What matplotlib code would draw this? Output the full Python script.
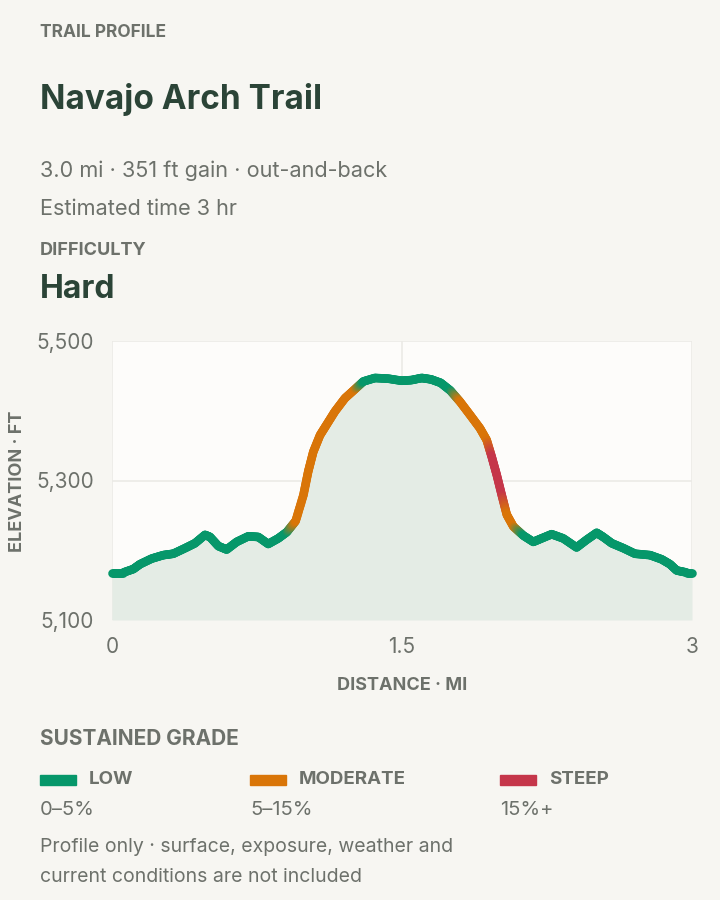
import numpy as np
import matplotlib
matplotlib.use('Agg')
import matplotlib.pyplot as plt
from matplotlib.collections import LineCollection
from matplotlib.colors import to_rgb
from matplotlib.patches import Rectangle

plt.rcParams['font.family'] = ['Inter', 'DejaVu Sans']

# Profile data
distance_mi = [0.000, 0.058, 0.110, 0.145, 0.205, 0.265, 0.317, 0.378, 0.429, 0.481,
               0.507, 0.550, 0.593, 0.645, 0.705, 0.757, 0.808, 0.860, 0.904,
               0.950, 0.990, 1.015, 1.041, 1.076, 1.110, 1.153, 1.205, 1.257,
               1.300, 1.360, 1.429, 1.498, 1.550, 1.602, 1.650, 1.700, 1.750,
               1.800, 1.852, 1.903, 1.938,
               1.964, 1.990, 2.016,
               2.042, 2.076,
               2.128, 2.179, 2.222, 2.274, 2.334, 2.403, 2.455, 2.507, 2.541,
               2.585, 2.645, 2.705, 2.783, 2.843, 2.886, 2.921, 2.973, 3.000]
elevation_ft = [5168, 5168, 5173, 5180, 5188, 5193, 5195, 5203, 5210, 5222,
                5219, 5206, 5201, 5212, 5220, 5219, 5209, 5217, 5226,
                5242, 5279, 5313, 5341, 5365, 5380, 5399, 5418, 5431,
                5442, 5447, 5446, 5443, 5444, 5447, 5445, 5440, 5429,
                5413, 5394, 5375, 5358,
                5334, 5308, 5279,
                5251, 5234,
                5221, 5212, 5217, 5223, 5217, 5204, 5215, 5225, 5219,
                5210, 5203, 5195, 5193, 5187, 5180, 5171, 5168, 5168]
grade_class = (['low'] * 19 + ['moderate'] * 9 + ['low'] * 9 + ['moderate'] * 4 +
               ['steep'] * 3 + ['moderate'] * 2 + ['low'] * 18)

grade_keys = ['low', 'moderate', 'steep']
grade_names = ['LOW', 'MODERATE', 'STEEP']
grade_ranges = ['0–5%', '5–15%', '15%+']
grade_colors = {'low': '#06976a', 'moderate': '#d97508', 'steep': '#c5364a'}

y_ticks = [5100, 5300, 5500]
x_ticks = [0, 1.5, 3]

BG = '#f7f6f2'
DARK = '#2b4437'
GREY = '#6d716b'

fig = plt.figure(figsize=(7.2, 9), dpi=100, facecolor=BG)
W, H = 720, 900


def txt(x, y, s, size, weight='normal', color=GREY):
    fig.text(x / W, 1 - y / H, s, fontsize=size, fontweight=weight, color=color,
             ha='left', va='baseline')


# Header
txt(40, 37, 'TRAIL PROFILE', 12.5, 'bold')
txt(40, 109, 'Navajo Arch Trail', 24, 'bold', DARK)
txt(40, 177, '3.0 mi · 351 ft gain · out-and-back', 15.6)
txt(40, 215, 'Estimated time 3 hr', 15.6)
txt(40, 255, 'DIFFICULTY', 13, 'bold')
txt(40, 298, 'Hard', 23, 'bold', DARK)

# Chart
ax = fig.add_axes([112 / W, 1 - 620 / H, 580 / W, 279 / H])
ax.set_facecolor('#fdfcfa')
ax.fill_between(distance_mi, elevation_ft, 5100, color='#e4ece5', lw=0, zorder=1)

# line with colour blending between grade classes
x = np.array(distance_mi, dtype=float)
y = np.array(elevation_ft, dtype=float)
cols = np.array([to_rgb(grade_colors[g]) for g in grade_class])
segs, segcols = [], []
n = 10
for i in range(len(x) - 1):
    for k in range(n):
        t0, t1 = k / n, (k + 1) / n
        p0 = (x[i] + (x[i + 1] - x[i]) * t0, y[i] + (y[i + 1] - y[i]) * t0)
        p1 = (x[i] + (x[i + 1] - x[i]) * t1, y[i] + (y[i + 1] - y[i]) * t1)
        tm = (t0 + t1) / 2
        segs.append([p0, p1])
        segcols.append(cols[i] * (1 - tm) + cols[i + 1] * tm)
lc = LineCollection(segs, colors=segcols, linewidths=6.2, capstyle='round',
                    joinstyle='round', zorder=3, clip_on=False)
ax.add_collection(lc)

ax.set_xlim(0, 3)
ax.set_ylim(5100, 5500)
ax.set_xticks(x_ticks)
ax.set_xticklabels([f'{v:g}' for v in x_ticks])
ax.set_yticks(y_ticks)
ax.set_yticklabels([f'{v:,}' for v in y_ticks])
ax.tick_params(length=0, labelsize=15, labelcolor=GREY)
ax.tick_params(axis='y', pad=13)
ax.tick_params(axis='x', pad=12)
ax.grid(True, color='#ebeae6', lw=1.2, zorder=0)
ax.set_axisbelow(True)
for s in ax.spines.values():
    s.set_visible(False)

fig.text(402 / W, 1 - 690 / H, 'DISTANCE · MI', fontsize=13, fontweight='bold',
         color=GREY, ha='center', va='baseline')
fig.text(18 / W, 1 - 481 / H, 'ELEVATION · FT', fontsize=13, fontweight='bold',
         color=GREY, ha='center', va='center', rotation=90)

# Legend
txt(40, 745, 'SUSTAINED GRADE', 15, 'bold')
legend_x = [40, 250, 500]
for j, key in enumerate(grade_keys):
    x0 = legend_x[j]
    fig.patches.append(Rectangle((x0 / W, 1 - 785 / H), 36 / W, 10 / H,
                                 transform=fig.transFigure, color=grade_colors[key]))
    txt(x0 + 49, 784, grade_names[j], 13.5, 'bold')
    txt(x0, 815, grade_ranges[j], 14.5)

txt(40, 852, 'Profile only · surface, exposure, weather and', 14)
txt(40, 882, 'current conditions are not included', 14)

fig.savefig('out.png', dpi=100, facecolor=BG)
